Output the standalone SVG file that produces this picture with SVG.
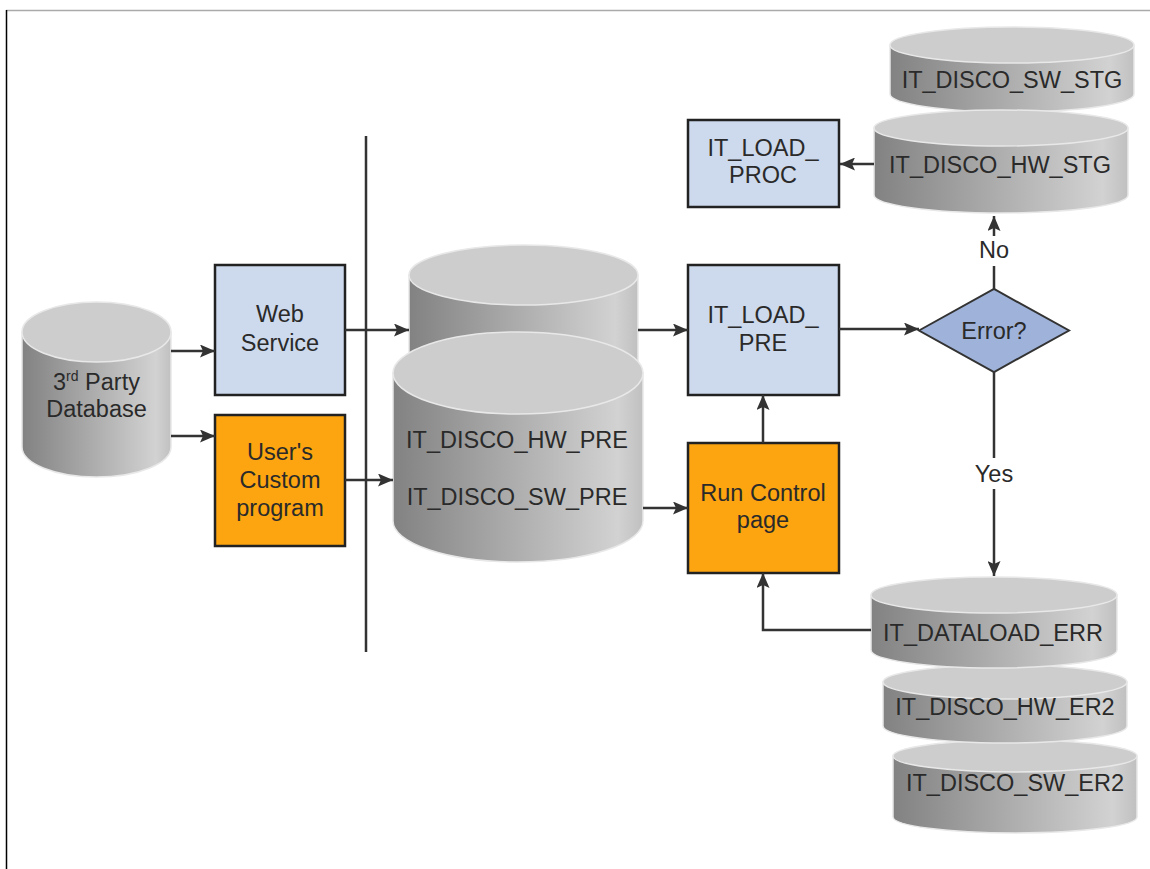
<svg xmlns="http://www.w3.org/2000/svg" width="1150" height="869" viewBox="0 0 1150 869">
<defs>
<linearGradient id="side" x1="0" y1="0" x2="1" y2="0">
<stop offset="0" stop-color="#828282"/>
<stop offset="0.45" stop-color="#aaaaaa"/>
<stop offset="0.9" stop-color="#d2d2d2"/>
<stop offset="1" stop-color="#c0c0c0"/>
</linearGradient>
<marker id="arr" viewBox="0 0 15 13" refX="15" refY="6.5" markerWidth="15" markerHeight="13" markerUnits="userSpaceOnUse" orient="auto">
<path d="M0,0 L15,6.5 L0,13 L3,6.5 Z" fill="#333"/>
</marker>
<style>
.t{font-family:"Liberation Sans",Arial,sans-serif;font-size:23.5px;fill:#2a2a2a;text-anchor:middle}
.side{fill:url(#side);stroke:#e8e8e8;stroke-width:1.5}
.top{fill:#cdcdcd;stroke:#e8e8e8;stroke-width:1.5}
.blue{fill:#cdd9ec;stroke:#222;stroke-width:2.5}
.orange{fill:#fca510;stroke:#222;stroke-width:2.5}
.c{fill:none;stroke:#333;stroke-width:2.5}
.ca{fill:none;stroke:#333;stroke-width:2.5;marker-end:url(#arr)}
</style>
</defs>
<rect x="0" y="0" width="1150" height="869" fill="#fff"/>
<line x1="6" y1="10.5" x2="1150" y2="10.5" stroke="#aaa" stroke-width="1.5"/>
<line x1="6.5" y1="10" x2="6.5" y2="869" stroke="#000" stroke-width="1.5"/>
<line id="separator" x1="366" y1="136" x2="366" y2="652" stroke="#333" stroke-width="2.5"/>

<g id="db3rd">
<path class="side" d="M22,332 V447 A74.5,30 0 0 0 171,447 V332 Z"/>
<ellipse class="top" cx="96.5" cy="332" rx="74.5" ry="30"/>
<text class="t" x="96.5" y="390">3<tspan font-size="14" dy="-9">rd</tspan><tspan dy="9"> Party</tspan></text>
<text class="t" x="96.5" y="417">Database</text>
</g>

<g id="webservice">
<rect class="blue" x="215" y="265" width="130" height="130"/>
<text class="t" x="280" y="322">Web</text>
<text class="t" x="280" y="351">Service</text>
</g>

<g id="custom">
<rect class="orange" x="215" y="415" width="130" height="131"/>
<text class="t" x="280" y="460">User's</text>
<text class="t" x="280" y="488">Custom</text>
<text class="t" x="280" y="516">program</text>
</g>

<g id="backcyl">
<path class="side" d="M409,275 V480 A114.5,30 0 0 0 638,480 V275 Z"/>
<ellipse class="top" cx="523.5" cy="275" rx="114.5" ry="30"/>
</g>

<g id="precyl">
<path class="side" d="M393,373 V521 A125,41 0 0 0 643,521 V373 Z"/>
<ellipse class="top" cx="518" cy="373" rx="125" ry="41"/>
<text class="t" x="517" y="448">IT_DISCO_HW_PRE</text>
<text class="t" x="517" y="505">IT_DISCO_SW_PRE</text>
</g>

<g id="loadpre">
<rect class="blue" x="688" y="265" width="151" height="130"/>
<text class="t" x="763" y="323">IT_LOAD_</text>
<text class="t" x="763" y="351">PRE</text>
</g>

<g id="runcontrol">
<rect class="orange" x="688" y="443" width="151" height="130"/>
<text class="t" x="763" y="501">Run Control</text>
<text class="t" x="763" y="528">page</text>
</g>

<g id="loadproc">
<rect class="blue" x="688" y="120" width="151" height="87"/>
<text class="t" x="763" y="156">IT_LOAD_</text>
<text class="t" x="763" y="183">PROC</text>
</g>

<g id="error">
<polygon points="919,330.5 994,289 1069,330.5 994,372" fill="#9fb3da" stroke="#333" stroke-width="2"/>
<text class="t" x="994" y="338.5">Error?</text>
</g>

<g id="swstg">
<path class="side" d="M890,45 V94 A122,18 0 0 0 1134,94 V45 Z"/>
<ellipse class="top" cx="1012" cy="45" rx="122" ry="18"/>
<text class="t" x="1012" y="88">IT_DISCO_SW_STG</text>
</g>

<g id="hwstg">
<path class="side" d="M874,128 V195 A127,18 0 0 0 1128,195 V128 Z"/>
<ellipse class="top" cx="1001" cy="128" rx="127" ry="18"/>
<text class="t" x="1000" y="173">IT_DISCO_HW_STG</text>
</g>

<g id="swer2">
<path class="side" d="M893,756 V817 A122,16 0 0 0 1137,817 V756 Z"/>
<ellipse class="top" cx="1015" cy="756" rx="122" ry="16"/>
<text class="t" x="1015" y="791">IT_DISCO_SW_ER2</text>
</g>

<g id="hwer2">
<path class="side" d="M883,682 V726 A122,17 0 0 0 1127,726 V682 Z"/>
<ellipse class="top" cx="1005" cy="682" rx="122" ry="17"/>
<text class="t" x="1005" y="715">IT_DISCO_HW_ER2</text>
</g>

<g id="dataloaderr">
<path class="side" d="M871,595 V650 A123,18 0 0 0 1117,650 V595 Z"/>
<ellipse class="top" cx="994" cy="595" rx="123" ry="18"/>
<text class="t" x="993" y="641">IT_DATALOAD_ERR</text>
</g>

<g id="connectors">
<line class="ca" x1="171" y1="351" x2="215" y2="351"/>
<line class="ca" x1="171" y1="436" x2="215" y2="436"/>
<line class="ca" x1="345" y1="330" x2="409" y2="330"/>
<line class="ca" x1="345" y1="480" x2="393" y2="480"/>
<line class="ca" x1="638" y1="330" x2="688" y2="330"/>
<line class="ca" x1="643" y1="508" x2="688" y2="508"/>
<line class="ca" x1="839" y1="329" x2="919" y2="329"/>
<line class="ca" x1="763" y1="443" x2="763" y2="395"/>
<polyline class="ca" points="871,630 763,630 763,573"/>
<line class="ca" x1="874" y1="164" x2="840" y2="164"/>
<line class="c" x1="994" y1="289" x2="994" y2="266"/>
<line class="ca" x1="994" y1="236" x2="994" y2="216"/>
<text class="t" x="994" y="258">No</text>
<line class="c" x1="994" y1="372" x2="994" y2="458"/>
<line class="ca" x1="994" y1="489" x2="994" y2="576"/>
<text class="t" x="994" y="482">Yes</text>
</g>
</svg>
